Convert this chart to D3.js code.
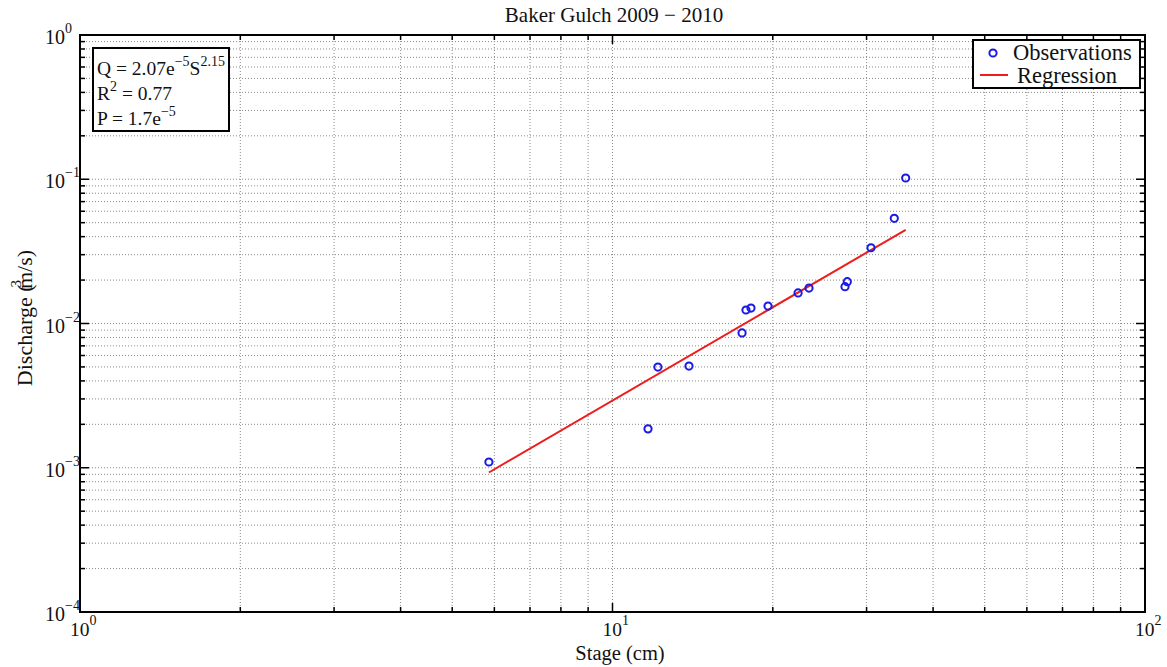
<!DOCTYPE html>
<html><head><meta charset="utf-8">
<script src="https://cdn.jsdelivr.net/npm/d3@7"></script>
<style>body{margin:0;background:#fff;} text{font-family:"Liberation Serif","Times New Roman",serif;fill:#111;}</style>
</head><body>
<svg id="c" width="1167" height="667"></svg>
<script>
// Data
const stage = [5.86, 11.66, 12.17, 13.92, 17.51, 17.81, 18.2, 19.59, 22.31, 23.39, 27.33, 27.6, 30.58, 33.82, 35.53];
const discharge = [1.096e-3, 1.86e-3, 4.99e-3, 5.07e-3, 8.6e-3, 1.24e-2, 1.28e-2, 1.32e-2, 1.63e-2, 1.76e-2, 1.80e-2, 1.95e-2, 3.35e-2, 5.36e-2, 0.102];
const regStage = [5.86, 35.53];
const regDischarge = [9.27e-4, 0.0446];
const xTickExps = [0, 1, 2];
const yTickExps = [-4, -3, -2, -1, 0];
const titleText = "Baker Gulch 2009 \u2212 2010";

const svg = d3.select("#c");
const L = 80, R = 1145, T = 35, B = 612;
const x = d3.scaleLog().domain([1, 100]).range([L, R]);
const y = d3.scaleLog().domain([1e-4, 1]).range([B, T]);

const xMinor = [], yMinor = [];
for (let e = 0; e < 2; e++) for (let k = 2; k <= 9; k++) xMinor.push(k * Math.pow(10, e));
for (let e = -4; e < 0; e++) for (let k = 2; k <= 9; k++) yMinor.push(k * Math.pow(10, e));
const xMajor = xTickExps.map(e => Math.pow(10, e));
const yMajor = yTickExps.map(e => Math.pow(10, e));

const grid = svg.append("g").attr("stroke", "#8a8a8a").attr("stroke-width", 1).attr("stroke-dasharray", "1,2");
xMinor.concat(xMajor.slice(1, -1)).forEach(v => grid.append("line").attr("x1", x(v)).attr("x2", x(v)).attr("y1", T).attr("y2", B));
yMinor.concat(yMajor.slice(1, -1)).forEach(v => grid.append("line").attr("y1", y(v)).attr("y2", y(v)).attr("x1", L).attr("x2", R));

// axes ticks (inward) on all sides
const tk = svg.append("g").attr("stroke", "#000").attr("stroke-width", 1.5);
xMinor.forEach(v => { tk.append("line").attr("x1", x(v)).attr("x2", x(v)).attr("y1", B).attr("y2", B - 5);
  tk.append("line").attr("x1", x(v)).attr("x2", x(v)).attr("y1", T).attr("y2", T + 5); });
xMajor.forEach(v => { tk.append("line").attr("x1", x(v)).attr("x2", x(v)).attr("y1", B).attr("y2", B - 9);
  tk.append("line").attr("x1", x(v)).attr("x2", x(v)).attr("y1", T).attr("y2", T + 9); });
yMinor.forEach(v => { tk.append("line").attr("y1", y(v)).attr("y2", y(v)).attr("x1", L).attr("x2", L + 5);
  tk.append("line").attr("y1", y(v)).attr("y2", y(v)).attr("x1", R).attr("x2", R - 5); });
yMajor.forEach(v => { tk.append("line").attr("y1", y(v)).attr("y2", y(v)).attr("x1", L).attr("x2", L + 9);
  tk.append("line").attr("y1", y(v)).attr("y2", y(v)).attr("x1", R).attr("x2", R - 9); });

svg.append("rect").attr("x", L).attr("y", T).attr("width", R - L).attr("height", B - T)
  .attr("fill", "none").attr("stroke", "#000").attr("stroke-width", 2);

// tick labels
xTickExps.forEach(e => {
  const t = svg.append("text").attr("x", x(Math.pow(10, e)) - 10).attr("y", 636).attr("font-size", 19.5);
  t.append("tspan").text("10");
  t.append("tspan").text(e).attr("font-size", 14).attr("dy", -11);
});
yTickExps.forEach(e => {
  const t = svg.append("text").attr("x", 45).attr("y", y(Math.pow(10, e)) + 9).attr("font-size", 20);
  t.append("tspan").text("10");
  t.append("tspan").text(e === 0 ? "0" : "\u2212" + Math.abs(e)).attr("font-size", 14).attr("dy", -11);
});

// title and axis labels
svg.append("text").attr("x", 614).attr("y", 22).attr("text-anchor", "middle").attr("font-size", 21).text(titleText);
svg.append("text").attr("x", 620).attr("y", 660).attr("text-anchor", "middle").attr("font-size", 20.5).text("Stage (cm)");
const yl = svg.append("text").attr("transform", "translate(32,318) rotate(-90)").attr("text-anchor", "middle").attr("font-size", 22);
yl.append("tspan").text("Discharge (");
yl.append("tspan").text("3").attr("font-size", 15).attr("dy", -11).attr("dx", -3);
yl.append("tspan").text("m/s)").attr("dy", 11).attr("dx", -9);

// regression line
const line = d3.line().x(d => x(d[0])).y(d => y(d[1]));
svg.append("path").datum(d3.zip(regStage, regDischarge)).attr("d", line)
  .attr("fill", "none").attr("stroke", "#ee1c1c").attr("stroke-width", 2);

// observations
svg.append("g").selectAll("circle").data(d3.zip(stage, discharge)).join("circle")
  .attr("cx", d => x(d[0])).attr("cy", d => y(d[1])).attr("r", 3.6)
  .attr("fill", "none").attr("stroke", "#1a1ae6").attr("stroke-width", 2);

// stats box
svg.append("rect").attr("x", 93).attr("y", 48).attr("width", 136).attr("height", 83)
  .attr("fill", "#fff").attr("stroke", "#000").attr("stroke-width", 2);
const s1 = svg.append("text").attr("x", 97).attr("y", 75).attr("font-size", 19.5);
s1.append("tspan").text("Q = 2.07e");
s1.append("tspan").text("\u22125").attr("font-size", 14).attr("dy", -9);
s1.append("tspan").text("S").attr("dy", 9);
s1.append("tspan").text("2.15").attr("font-size", 14).attr("dy", -9);
const s2 = svg.append("text").attr("x", 97).attr("y", 100).attr("font-size", 19.5);
s2.append("tspan").text("R");
s2.append("tspan").text("2").attr("font-size", 14).attr("dy", -9);
s2.append("tspan").text(" = 0.77").attr("dy", 9);
const s3 = svg.append("text").attr("x", 97).attr("y", 125).attr("font-size", 19.5);
s3.append("tspan").text("P = 1.7e");
s3.append("tspan").text("\u22125").attr("font-size", 14).attr("dy", -9);

// legend
svg.append("rect").attr("x", 973).attr("y", 40).attr("width", 167).attr("height", 48)
  .attr("fill", "#fff").attr("stroke", "#000").attr("stroke-width", 2);
svg.append("circle").attr("cx", 993).attr("cy", 53).attr("r", 3.6).attr("fill", "none").attr("stroke", "#1a1ae6").attr("stroke-width", 2);
svg.append("line").attr("x1", 980).attr("x2", 1008).attr("y1", 75).attr("y2", 75).attr("stroke", "#ee1c1c").attr("stroke-width", 2);
svg.append("text").attr("x", 1013).attr("y", 60).attr("font-size", 22.5).text("Observations");
svg.append("text").attr("x", 1017).attr("y", 83).attr("font-size", 22.5).text("Regression");
</script>
</body></html>
